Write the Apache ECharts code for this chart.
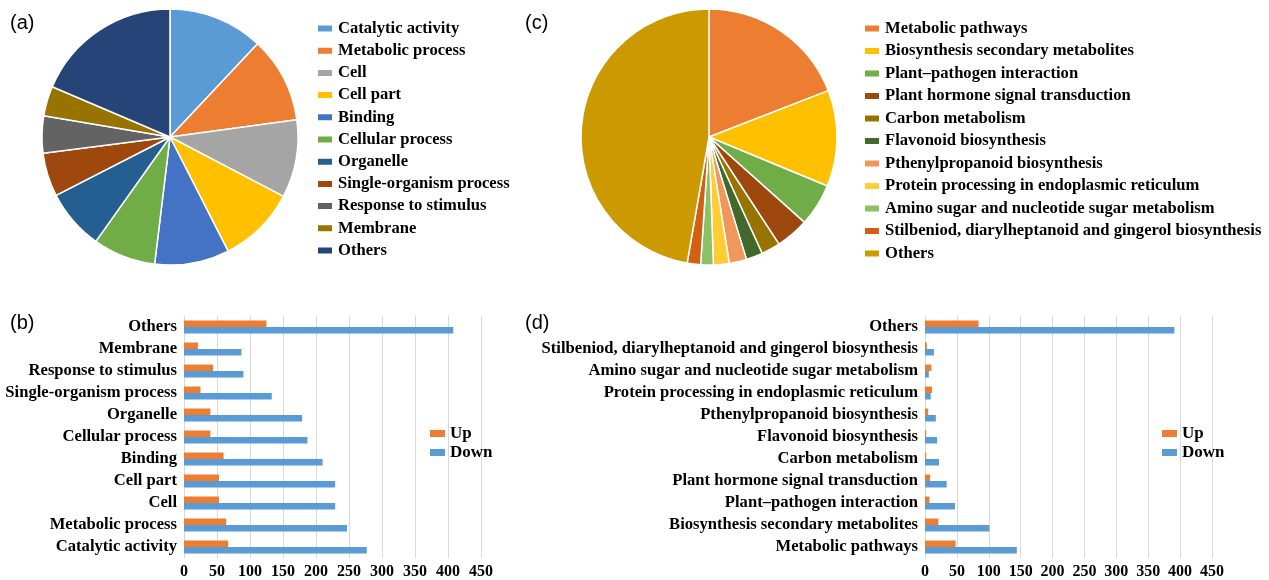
<!DOCTYPE html>
<html>
<head>
<meta charset="utf-8">
<title>GO and KEGG classification of DEGs</title>
<script src="https://cdn.jsdelivr.net/npm/echarts@6/dist/echarts.min.js"></script>
<style>
  html, body { margin: 0; padding: 0; background: #fff; }
  #left { position: absolute; left: 0; top: 0; width: 520px; height: 580px; }
  #right { position: absolute; left: 520px; top: 0; width: 749px; height: 580px; }
</style>
</head>
<body>
<div id="left"></div>
<div id="right"></div>
<script>
// GO term classes (bottom to top in the bar chart, clockwise in the pie)
const goCategories = ['Catalytic activity', 'Metabolic process', 'Cell', 'Cell part', 'Binding',
  'Cellular process', 'Organelle', 'Single-organism process', 'Response to stimulus', 'Membrane', 'Others'];
const goUp = [67, 64, 53, 53, 60, 40, 40, 25, 44, 21, 125];
const goDown = [277, 247, 229, 229, 210, 187, 179, 133, 90, 87, 408];
const goColors = ['#5B9BD5', '#ED7D31', '#A5A5A5', '#FFC000', '#4472C4', '#70AD47',
  '#255E91', '#9E480E', '#636363', '#997300', '#264478'];

// KEGG pathways (bottom to top in the bar chart, clockwise in the pie)
const keggCategories = ['Metabolic pathways', 'Biosynthesis secondary metabolites', 'Plant\u2013pathogen interaction',
  'Plant hormone signal transduction', 'Carbon metabolism', 'Flavonoid biosynthesis',
  'Pthenylpropanoid biosynthesis', 'Protein processing in endoplasmic reticulum',
  'Amino sugar and nucleotide sugar metabolism', 'Stilbeniod, diarylheptanoid and gingerol biosynthesis', 'Others'];
const keggUp = [48, 21, 7, 8, 2, 2, 5, 11, 10, 3, 84];
const keggDown = [144, 101, 47, 34, 22, 19, 17, 9, 6, 14, 391];
const keggColors = ['#ED7D31', '#FFC000', '#70AD47', '#9E480E', '#997300', '#43682B',
  '#F1975A', '#FFCD33', '#8CC168', '#D26012', '#CC9A00'];

const xTicks = { min: 0, max: 450, interval: 50 };
const UP_COLOR = '#ED7D31';
const DOWN_COLOR = '#5B9BD5';
const SERIF = '"Liberation Serif", "Times New Roman", serif';
const SANS = '"Liberation Sans", Arial, sans-serif';

function pieData(names, up, down, colors) {
  return names.map((n, i) => ({ name: n, value: up[i] + down[i], itemStyle: { color: colors[i] } }));
}

function panelTitle(text, left, top) {
  return { text: text, left: left, top: top,
    textStyle: { fontFamily: SANS, fontSize: 20, fontWeight: 'normal', color: '#000' } };
}

function buildOption(cfg) {
  return {
    animation: false,
    backgroundColor: 'transparent',
    title: [panelTitle(cfg.topLabel, cfg.labelLeft, 8), panelTitle(cfg.bottomLabel, cfg.labelLeft, 308)],
    legend: [
      {
        orient: 'vertical', left: cfg.pieLegendLeft, top: 20, padding: 0,
        icon: 'rect', itemWidth: 16, itemHeight: 8, itemGap: cfg.pieLegendGap,
        data: cfg.categories,
        selectedMode: false,
        textStyle: { fontFamily: SERIF, fontWeight: 'bold', fontSize: 16.6, color: '#000' }
      },
      {
        orient: 'vertical', left: cfg.barLegendLeft, top: 425, padding: 0,
        icon: 'rect', itemWidth: 15, itemHeight: 7, itemGap: 2,
        data: ['Up', 'Down'],
        selectedMode: false,
        textStyle: { fontFamily: SERIF, fontWeight: 'bold', fontSize: 17, color: '#000' }
      }
    ],
    grid: { left: cfg.gridLeft, width: cfg.gridWidth, top: 316, height: 243, containLabel: false },
    xAxis: {
      type: 'value', min: xTicks.min, max: xTicks.max, interval: xTicks.interval,
      axisLine: { show: false }, axisTick: { show: false },
      splitLine: { show: true, lineStyle: { color: '#D9D9D9', width: 1 } },
      axisLabel: { fontFamily: SERIF, fontWeight: 'bold', fontSize: 16, color: '#000', margin: 6 }
    },
    yAxis: {
      type: 'category', data: cfg.categories,
      axisLine: { show: false }, axisTick: { show: false },
      axisLabel: { interval: 0, fontFamily: SERIF, fontWeight: 'bold', fontSize: 16.6, color: '#000', margin: 7 }
    },
    series: [
      {
        type: 'pie', name: 'share', center: cfg.pieCenter, radius: 128,
        startAngle: 90, clockwise: true,
        label: { show: false }, labelLine: { show: false },
        itemStyle: { borderColor: '#fff', borderWidth: 1.5 },
        data: pieData(cfg.categories, cfg.up, cfg.down, cfg.colors)
      },
      {
        type: 'bar', name: 'Up', data: cfg.up, itemStyle: { color: UP_COLOR },
        barGap: '0%', barCategoryGap: '41%'
      },
      {
        type: 'bar', name: 'Down', data: cfg.down, itemStyle: { color: DOWN_COLOR },
        barGap: '0%', barCategoryGap: '41%'
      }
    ]
  };
}

const left = echarts.init(document.getElementById('left'), null, { renderer: 'canvas' });
left.setOption(buildOption({
  topLabel: '(a)', bottomLabel: '(b)', labelLeft: 5,
  categories: goCategories, up: goUp, down: goDown, colors: goColors,
  pieCenter: [170, 137], pieLegendLeft: 316, pieLegendGap: 5.2,
  barLegendLeft: 430, gridLeft: 184, gridWidth: 297
}));

const right = echarts.init(document.getElementById('right'), null, { renderer: 'canvas' });
right.setOption(buildOption({
  topLabel: '(c)', bottomLabel: '(d)', labelLeft: 0,
  categories: keggCategories, up: keggUp, down: keggDown, colors: keggColors,
  pieCenter: [189, 137], pieLegendLeft: 343, pieLegendGap: 5.5,
  barLegendLeft: 642, gridLeft: 405, gridWidth: 287
}));
</script>
</body>
</html>
